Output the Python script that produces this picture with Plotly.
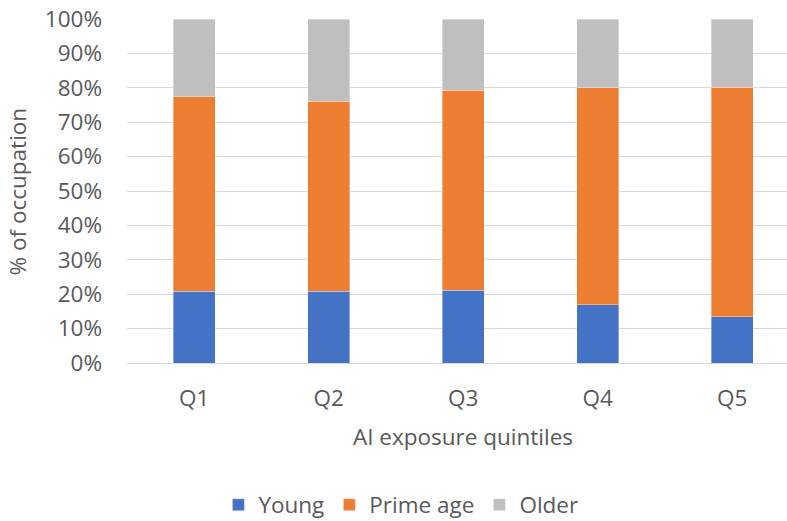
import plotly.graph_objects as go

categories = ["Q1", "Q2", "Q3", "Q4", "Q5"]
young = [20.8, 20.8, 21.1, 17.0, 13.5]
prime_age = [56.6, 55.3, 58.2, 63.0, 66.7]
older = [22.6, 23.9, 20.7, 20.0, 19.8]

y_ticks = list(range(0, 101, 10))
y_tick_labels = [f"{v}%" for v in y_ticks]

FONT = "Open Sans"
GREY_TEXT = "#595959"
FS = 22.5

fig = go.Figure()
for name, vals, color in [
    ("Young", young, "#4472C4"),
    ("Prime age", prime_age, "#ED7D31"),
    ("Older", older, "#BFBFBF"),
]:
    fig.add_trace(go.Bar(
        x=categories, y=vals, name=name,
        marker=dict(color=color, line=dict(color="rgba(255,255,255,0.6)", width=0.6)),
    ))

fig.update_layout(
    barmode="stack",
    bargap=0.688,
    width=787, height=521,
    margin=dict(l=127, r=0, t=19, b=158, autoexpand=False),
    paper_bgcolor="white",
    plot_bgcolor="white",
    font=dict(family=FONT, color=GREY_TEXT, size=FS),
    xaxis=dict(
        range=[-0.5, 4.407],
        showgrid=False, showline=False, ticks="",
        automargin=False,
        ticklabelstandoff=19,
        tickfont=dict(size=FS, color=GREY_TEXT),
    ),
    yaxis=dict(
        range=[0, 100],
        tickvals=y_ticks, ticktext=y_tick_labels,
        showgrid=True, gridcolor="#D9D9D9", gridwidth=1,
        zeroline=True, zerolinecolor="#D9D9D9", zerolinewidth=1,
        showline=False, ticks="",
        automargin=False,
        ticklabelstandoff=24,
        tickfont=dict(size=FS, color=GREY_TEXT),
    ),
    legend=dict(
        orientation="h",
        x=0.415, xanchor="center",
        y=-0.413, yanchor="middle",
        font=dict(size=FS, color=GREY_TEXT),
        traceorder="normal",
        itemwidth=30,
    ),
    annotations=[
        dict(text="AI exposure quintiles", xref="paper", yref="paper",
             x=0.509, y=-0.215, xanchor="center", yanchor="middle",
             showarrow=False, font=dict(size=FS, color=GREY_TEXT)),
        dict(text="% of occupation", xref="paper", yref="paper",
             x=-0.166, y=0.5, xanchor="center", yanchor="middle", textangle=-90,
             showarrow=False, font=dict(size=FS, color=GREY_TEXT)),
    ],
)

fig.write_html("out.html")
